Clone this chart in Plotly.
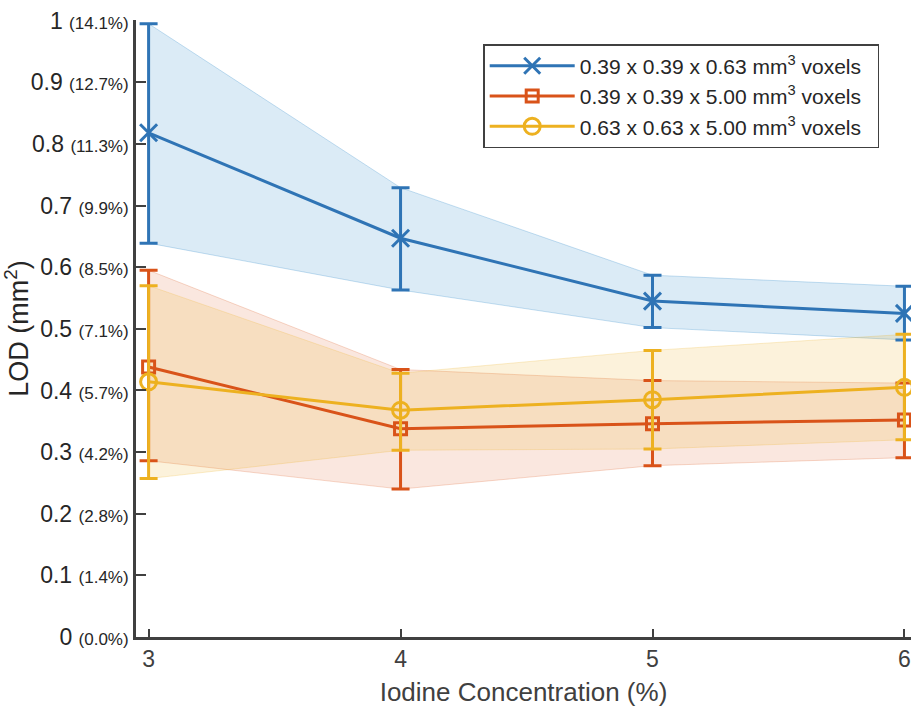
import plotly.graph_objects as go

# Iodine concentration (%)
conc = [3, 4, 5, 6]

# LOD (mm^2) per voxel size: mean, upper and lower bounds
lod_a = [0.818, 0.647, 0.545, 0.525]
hi_a = [0.995, 0.729, 0.587, 0.569]
lo_a = [0.639, 0.563, 0.502, 0.482]

lod_b = [0.438, 0.338, 0.346, 0.352]
hi_b = [0.595, 0.434, 0.416, 0.412]
lo_b = [0.286, 0.240, 0.278, 0.291]

lod_c = [0.414, 0.368, 0.385, 0.405]
hi_c = [0.570, 0.428, 0.465, 0.491]
lo_c = [0.257, 0.303, 0.305, 0.320]

names = [
    "0.39 x 0.39 x 0.63 mm<sup>3</sup> voxels",
    "0.39 x 0.39 x 5.00 mm<sup>3</sup> voxels",
    "0.63 x 0.63 x 5.00 mm<sup>3</sup> voxels",
]

y_ticks = [0, 0.1, 0.2, 0.3, 0.4, 0.5, 0.6, 0.7, 0.8, 0.9, 1]
y_main = ["0", "0.1", "0.2", "0.3", "0.4", "0.5", "0.6", "0.7", "0.8", "0.9", "1"]
y_pct = ["(0.0%)", "(1.4%)", "(2.8%)", "(4.2%)", "(5.7%)", "(7.1%)",
         "(8.5%)", "(9.9%)", "(11.3%)", "(12.7%)", "(14.1%)"]

colors = ["#2F74B5", "#D95319", "#EDB120"]
fills = ["rgba(0,114,189,0.14)", "rgba(217,83,25,0.14)", "rgba(237,177,32,0.16)"]
edges = ["rgba(0,114,189,0.22)", "rgba(217,83,25,0.22)", "rgba(237,177,32,0.22)"]
symbols = ["x-thin-open", "square-open", "circle-open"]
sizes = [17, 12, 16]

series = [(lod_a, hi_a, lo_a), (lod_b, hi_b, lo_b), (lod_c, hi_c, lo_c)]

fig = go.Figure()

# Shaded bands between lower and upper bounds
for (mean, hi, lo), fc, ec in zip(series, fills, edges):
    fig.add_trace(go.Scatter(
        x=conc + conc[::-1], y=hi + lo[::-1],
        mode="lines", fill="toself", fillcolor=fc,
        line=dict(color=ec, width=1), showlegend=False, hoverinfo="skip",
    ))

# Mean lines with asymmetric error bars
for (mean, hi, lo), c, sym, sz, nm in zip(series, colors, symbols, sizes, names):
    fig.add_trace(go.Scatter(
        x=conc, y=mean, mode="lines+markers", name=nm + "\u00a0\u00a0",
        line=dict(color=c, width=3),
        marker=dict(symbol=sym, size=sz, color=c, line=dict(color=c, width=3)),
        error_y=dict(type="data", symmetric=False,
                     array=[h - m for h, m in zip(hi, mean)],
                     arrayminus=[m - l for m, l in zip(mean, lo)],
                     color=c, thickness=3, width=9),
    ))

axis_col = "#404040"
fig.update_layout(
    width=911, height=714,
    margin=dict(l=136, r=0, t=20, b=77),
    paper_bgcolor="white", plot_bgcolor="white",
    font=dict(family="Liberation Sans, Arial, sans-serif", color="#262626"),
    xaxis=dict(
        range=[2.950, 6.026], tickvals=conc, ticktext=[str(v) for v in conc],
        ticks="inside", ticklen=8, tickwidth=2, tickcolor=axis_col,
        showline=True, linecolor=axis_col, linewidth=2.5,
        showgrid=False, zeroline=False,
        tickfont=dict(size=23, color="#404040"),
        title=dict(text="Iodine Concentration (%)", font=dict(size=26, color="#404040"), standoff=12),
    ),
    yaxis=dict(
        range=[0, 1.001], tickvals=y_ticks,
        ticktext=[f"{m} <span style='font-size:17px'>{p}</span>" for m, p in zip(y_main, y_pct)],
        ticks="inside", ticklen=10, tickwidth=2, tickcolor=axis_col,
        showline=True, linecolor=axis_col, linewidth=2.5,
        showgrid=False, zeroline=False,
        tickfont=dict(size=23, color="#262626"),
        title=dict(text="LOD (mm<sup>2</sup>)", font=dict(size=27, color="#262626"), standoff=2),
    ),
    legend=dict(
        x=0.448, y=0.961, xanchor="left", yanchor="top",
        bgcolor="white", bordercolor="#404040", borderwidth=1.5,
        font=dict(size=21, color="#262626"),
        itemwidth=85, tracegroupgap=0,
    ),
)

fig.write_html("out.html")
